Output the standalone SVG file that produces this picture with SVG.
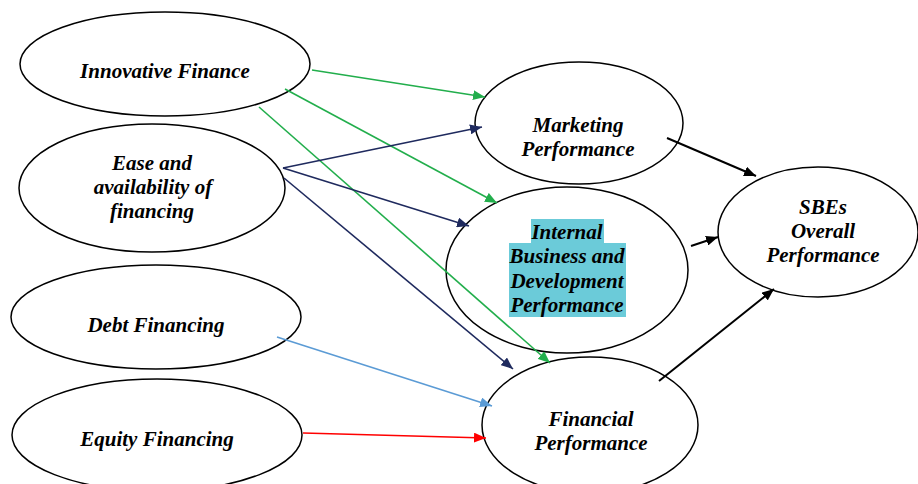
<svg xmlns="http://www.w3.org/2000/svg" width="918" height="484" viewBox="0 0 918 484">
<style>
.n{fill:#fff;stroke:#000;stroke-width:1.5}
.t{font-family:"Liberation Serif","Times New Roman",serif;font-weight:bold;font-style:italic;font-size:21px;fill:#000;text-anchor:middle}
.c{fill:none;stroke-width:1.6}
.g{stroke:#22ae4c}.b{stroke:#1f2a5e}.lb{stroke:#5b9bd5}.r{stroke:#ff0000}.k{stroke:#000;stroke-width:2}
</style>
<defs>
<marker id="ag" markerUnits="userSpaceOnUse" markerWidth="12" markerHeight="10" refX="12" refY="5" orient="auto"><path d="M0,0L12,5L0,10z" fill="#22ae4c"/></marker>
<marker id="ab" markerUnits="userSpaceOnUse" markerWidth="12" markerHeight="10" refX="12" refY="5" orient="auto"><path d="M0,0L12,5L0,10z" fill="#1f2a5e"/></marker>
<marker id="alb" markerUnits="userSpaceOnUse" markerWidth="12" markerHeight="10" refX="12" refY="5" orient="auto"><path d="M0,0L12,5L0,10z" fill="#5b9bd5"/></marker>
<marker id="ar" markerUnits="userSpaceOnUse" markerWidth="12" markerHeight="10" refX="12" refY="5" orient="auto"><path d="M0,0L12,5L0,10z" fill="#ff0000"/></marker>
<marker id="ak" markerUnits="userSpaceOnUse" markerWidth="12" markerHeight="10" refX="12" refY="5" orient="auto"><path d="M0,0L12,5L0,10z" fill="#000"/></marker>
</defs>
<rect width="918" height="484" fill="#fff"/>
<g id="innovative"><ellipse class="n" cx="165" cy="64" rx="145" ry="52"/><text class="t" x="165" y="78">Innovative Finance</text></g>
<g id="ease"><ellipse class="n" cx="152" cy="188" rx="133" ry="64"/><text class="t" x="152" y="170">Ease and</text><text class="t" x="153" y="194">availability of</text><text class="t" x="152" y="218">financing</text></g>
<g id="debt"><ellipse class="n" cx="156" cy="317" rx="145" ry="52"/><text class="t" x="156" y="332">Debt Financing</text></g>
<g id="equity"><ellipse class="n" cx="157" cy="435" rx="145" ry="56"/><text class="t" x="157" y="446">Equity Financing</text></g>
<g id="marketing"><ellipse class="n" cx="579" cy="123" rx="104" ry="61"/><text class="t" x="578" y="132">Marketing</text><text class="t" x="578" y="156">Performance</text></g>
<g id="internal"><ellipse class="n" cx="567" cy="270" rx="121" ry="83"/>
<rect x="531" y="219" width="73" height="25" fill="#6bcbd9"/><rect x="509" y="243" width="117" height="74" fill="#6bcbd9"/>
<text class="t" x="567" y="239">Internal</text><text class="t" x="567" y="263">Business and</text><text class="t" x="567" y="288">Development</text><text class="t" x="567" y="312">Performance</text></g>
<g id="sbes"><ellipse class="n" cx="818" cy="232" rx="100" ry="65"/><text class="t" x="823" y="214">SBEs</text><text class="t" x="823" y="238">Overall</text><text class="t" x="823" y="262">Performance</text></g>
<g id="financial"><ellipse class="n" cx="590" cy="425" rx="108" ry="68"/><text class="t" x="591" y="426">Financial</text><text class="t" x="591" y="450">Performance</text></g>
<g id="connectors">
<line class="c g" x1="312" y1="70" x2="485" y2="97" marker-end="url(#ag)"/>
<line class="c g" x1="285" y1="89" x2="497" y2="203" marker-end="url(#ag)"/>
<line class="c g" x1="259" y1="107" x2="550" y2="363" marker-end="url(#ag)"/>
<line class="c b" x1="283" y1="168" x2="482" y2="127" marker-end="url(#ab)"/>
<line class="c b" x1="283" y1="168" x2="469" y2="226" marker-end="url(#ab)"/>
<line class="c b" x1="284" y1="178" x2="513" y2="369" marker-end="url(#ab)"/>
<line class="c lb" x1="277" y1="337" x2="492" y2="406" marker-end="url(#alb)"/>
<line class="c r" x1="303" y1="433" x2="486" y2="438" marker-end="url(#ar)"/>
<line class="c k" x1="667" y1="138" x2="756" y2="176" marker-end="url(#ak)"/>
<line class="c k" x1="691" y1="246" x2="718" y2="237" marker-end="url(#ak)"/>
<line class="c k" x1="659" y1="381" x2="774" y2="289" marker-end="url(#ak)"/>
</g>
</svg>
